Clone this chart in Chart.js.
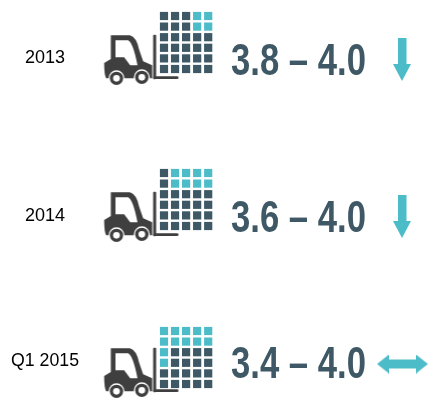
<!DOCTYPE html>
<html>
<head>
<meta charset="utf-8">
<title>Forklift ranges</title>
<script src="https://cdn.jsdelivr.net/npm/chart.js@4"></script>
<style>
  html, body { margin: 0; padding: 0; background: #fff; }
  canvas { display: block; }
</style>
</head>
<body>
<canvas id="chart" width="429" height="405"></canvas>
<script>
// values
const categories = ["2013", "2014", "Q1 2015"];
const rangeLow = [3.8, 3.6, 3.4];
const rangeHigh = [4.0, 4.0, 4.0];
const trends = ["down", "down", "flat"];
// cells are [row, col] of the 6 x 5 block
const tealCells2013 = [[0, 3], [0, 4], [1, 3], [1, 4]];
const tealCells2014 = [[0, 1], [0, 2], [0, 3], [0, 4], [1, 1], [1, 2], [1, 3], [1, 4]];
const tealCellsQ12015 = [[0, 0], [0, 1], [0, 2], [0, 3], [0, 4], [1, 0], [1, 1], [1, 2], [1, 3], [1, 4], [2, 0], [3, 0]];
const tealCells = [tealCells2013, tealCells2014, tealCellsQ12015];

const DARK = "#3e5865";
const TEAL = "#4dbcc9";
const TRUCK = "#3f3f3f";

// layout, in page pixels (the axes run 0-429 and 0-405)
const gridTop = [16, 173, 331];
const truckY = [61, 218, 374];
const labelY = [58, 216, 361];
const rangeY = [63, 220, 366];
const arrowY = [59.5, 216.5, 364];
const arrowX = [402, 402, 402.5];

function drawTruck() {
  const c = document.createElement("canvas");
  c.width = 80;
  c.height = 56;
  const g = c.getContext("2d");
  g.scale(1 / 3, 1 / 3);
  g.translate(-20, -100);
  g.fillStyle = TRUCK;
  // cab and body
  g.beginPath();
  g.moveTo(48, 107);
  g.lineTo(105, 107);
  g.quadraticCurveTo(125, 112, 133, 150);
  g.lineTo(145, 185);
  g.lineTo(172, 197);
  g.lineTo(172, 236);
  g.lineTo(34, 236);
  g.quadraticCurveTo(28, 225, 28, 190);
  g.lineTo(48, 178);
  g.closePath();
  g.fill();
  // window
  g.fillStyle = "#fff";
  g.beginPath();
  g.moveTo(62, 122);
  g.lineTo(100, 122);
  g.quadraticCurveTo(115, 130, 128, 197);
  g.lineTo(106, 197);
  g.lineTo(88, 173);
  g.lineTo(62, 173);
  g.closePath();
  g.fill();
  // mast and fork
  g.fillStyle = TRUCK;
  g.beginPath();
  g.roundRect(175, 105, 9, 134, 3);
  g.fill();
  g.beginPath();
  g.roundRect(175, 230, 76, 8, 4);
  g.fill();
  // wheels
  [[65, 236], [141, 233]].forEach(function (w) {
    [[24, "#fff"], [20, TRUCK], [10, "#fff"]].forEach(function (ring) {
      g.fillStyle = ring[1];
      g.beginPath();
      g.arc(w[0], w[1], ring[0], 0, Math.PI * 2);
      g.fill();
    });
  });
  return c;
}

function drawArrow(kind) {
  const c = document.createElement("canvas");
  if (kind === "down") {
    c.width = 18;
    c.height = 43;
  } else {
    c.width = 51;
    c.height = 19;
  }
  const g = c.getContext("2d");
  g.fillStyle = TEAL;
  g.beginPath();
  if (kind === "down") {
    g.moveTo(5, 0);
    g.lineTo(13.5, 0);
    g.lineTo(13.5, 26);
    g.lineTo(18, 26);
    g.lineTo(9, 43);
    g.lineTo(0, 26);
    g.lineTo(5, 26);
  } else {
    g.moveTo(0, 9.5);
    g.lineTo(12, 0);
    g.lineTo(12, 5);
    g.lineTo(39, 5);
    g.lineTo(39, 0);
    g.lineTo(51, 9.5);
    g.lineTo(39, 19);
    g.lineTo(39, 14);
    g.lineTo(12, 14);
    g.lineTo(12, 19);
  }
  g.closePath();
  g.fill();
  return c;
}

const darkPoints = [];
const tealPoints = [];
categories.forEach(function (cat, p) {
  for (let row = 0; row < 6; row++) {
    for (let col = 0; col < 5; col++) {
      const pt = { x: 164 + col * 11.05, y: gridTop[p] + row * 10.6 };
      const isTeal = tealCells[p].some(function (t) { return t[0] === row && t[1] === col; });
      (isTeal ? tealPoints : darkPoints).push(pt);
    }
  }
});

const truckImg = drawTruck();
const arrowImgs = { down: drawArrow("down"), flat: drawArrow("flat") };

// the labels and ranges are text on the same axes
const textPlugin = {
  id: "panelText",
  afterDatasetsDraw(chart) {
    const ctx = chart.ctx;
    const sx = chart.scales.x;
    const sy = chart.scales.y;
    ctx.save();
    ctx.textBaseline = "middle";
    categories.forEach(function (cat, i) {
      ctx.textAlign = "center";
      ctx.fillStyle = "#000";
      ctx.font = "18px 'Liberation Sans', sans-serif";
      ctx.fillText(cat, sx.getPixelForValue(45), sy.getPixelForValue(labelY[i]), 68);
      ctx.textAlign = "left";
      ctx.fillStyle = DARK;
      ctx.font = "bold 44px 'Liberation Sans', sans-serif";
      const txt = rangeLow[i].toFixed(1) + " – " + rangeHigh[i].toFixed(1);
      // the original face is condensed, so squeeze to its width
      ctx.fillText(txt, sx.getPixelForValue(231), sy.getPixelForValue(rangeY[i]), 135);
    });
    ctx.restore();
  },
};

new Chart(document.getElementById("chart"), {
  type: "scatter",
  data: {
    datasets: [
      {
        data: darkPoints,
        pointStyle: "rect",
        pointRadius: 5.8,
        backgroundColor: DARK,
        borderWidth: 0,
      },
      {
        data: tealPoints,
        pointStyle: "rect",
        pointRadius: 5.8,
        backgroundColor: TEAL,
        borderWidth: 0,
      },
      {
        data: truckY.map((y) => ({ x: 141.5, y: y })),
        pointStyle: truckImg,
      },
      {
        data: arrowY.map((y, i) => ({ x: arrowX[i], y: y })),
        pointStyle: trends.map((t) => arrowImgs[t]),
      },
    ],
  },
  options: {
    responsive: false,
    animation: false,
    layout: { padding: 0, autoPadding: false },
    plugins: { legend: { display: false }, tooltip: { enabled: false } },
    scales: {
      x: { type: "linear", min: 0, max: 429, display: false },
      y: { type: "linear", min: 0, max: 405, reverse: true, display: false },
    },
  },
  plugins: [textPlugin],
});
</script>
</body>
</html>
